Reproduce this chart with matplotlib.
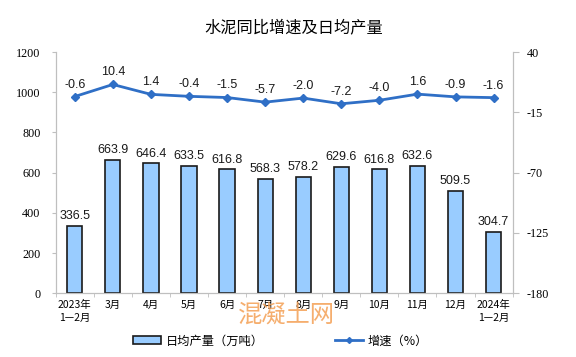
import numpy as np
import matplotlib
matplotlib.use("Agg")
import matplotlib.pyplot as plt
from matplotlib.lines import Line2D
from matplotlib.patches import Patch

plt.rcParams['font.family'] = ['Noto Sans CJK SC', 'DejaVu Sans']

categories = ['2023年\n1—2月', '3月', '4月', '5月', '6月', '7月', '8月', '9月',
              '10月', '11月', '12月', '2024年\n1—2月']
output = [336.5, 663.9, 646.4, 633.5, 616.8, 568.3, 578.2, 629.6, 616.8, 632.6, 509.5, 304.7]
growth = [-0.6, 10.4, 1.4, -0.4, -1.5, -5.7, -2.0, -7.2, -4.0, 1.6, -0.9, -1.6]
left_ticks = [0, 200, 400, 600, 800, 1000, 1200]
right_ticks = [-180, -125, -70, -15, 40]

bar_color = '#99ccff'
line_color = '#2f6fc6'
spine_color = '#bfbfbf'

fig = plt.figure(figsize=(5.76, 3.57), dpi=100)
ax = fig.add_axes([0.0967, 0.1784, 0.7933, 0.6759])
ax2 = ax.twinx()

x = np.arange(len(categories))
ax.bar(x, output, width=0.4, color=bar_color, edgecolor='#1a1a1a', linewidth=1.2, zorder=2)
for xi, v in zip(x, output):
    ax.text(xi, v + 18, f'{v:.1f}', ha='center', va='bottom', fontsize=9,
            family='Liberation Sans', color='#1a1a1a')

ax.set_xlim(-0.5, len(categories) - 0.5)
ax.set_ylim(0, 1200)
ax.set_yticks(left_ticks)
ax.set_yticklabels([str(t) for t in left_ticks], family='Liberation Serif', fontsize=8.7)
ax.set_xticks(x)
ax.set_xticklabels(categories, fontsize=7.5, linespacing=1.3)
ax.set_xticks(np.arange(len(categories) + 1) - 0.5, minor=True)
ax.tick_params(axis='x', which='major', length=0, pad=5)
ax.tick_params(axis='x', which='minor', length=3, color=spine_color)
ax.tick_params(axis='y', length=3, color=spine_color, pad=8)

ax2.plot(x, growth, color=line_color, linewidth=2, marker='D', markersize=4.5, zorder=3)
for xi, v in zip(x, growth):
    ax2.text(xi, v + 5.5, f'{v:.1f}', ha='center', va='bottom', fontsize=9,
             family='Liberation Sans', color='#1a1a1a')
ax2.set_ylim(-180, 40)
ax2.set_yticks(right_ticks)
ax2.set_yticklabels([str(t) for t in right_ticks], family='Liberation Serif', fontsize=8.7)
ax2.tick_params(axis='y', length=4, color=spine_color, pad=6)

for a in (ax, ax2):
    a.spines['top'].set_visible(False)
    for s in ('left', 'right', 'bottom'):
        a.spines[s].set_color(spine_color)

fig.text(0.51, 0.922, '水泥同比增速及日均产量', ha='center', va='center', fontsize=11.7)

handles = [Patch(facecolor=bar_color, edgecolor='#1a1a1a', linewidth=1.2),
           Line2D([], [], color=line_color, linewidth=2, marker='D', markersize=3)]
fig.legend(handles, ['日均产量（万吨）', '增速（%）'], loc='center',
           bbox_to_anchor=(0.487, 0.045), ncol=2, frameon=False, fontsize=8.8,
           handlelength=2.3, handleheight=0.55, columnspacing=5.8, handletextpad=0.4)

fig.text(0.498, 0.12, '混凝土网', ha='center', va='center', fontsize=17.5,
         color='#f4a055', alpha=0.85)

fig.savefig('out.png', dpi=100)
